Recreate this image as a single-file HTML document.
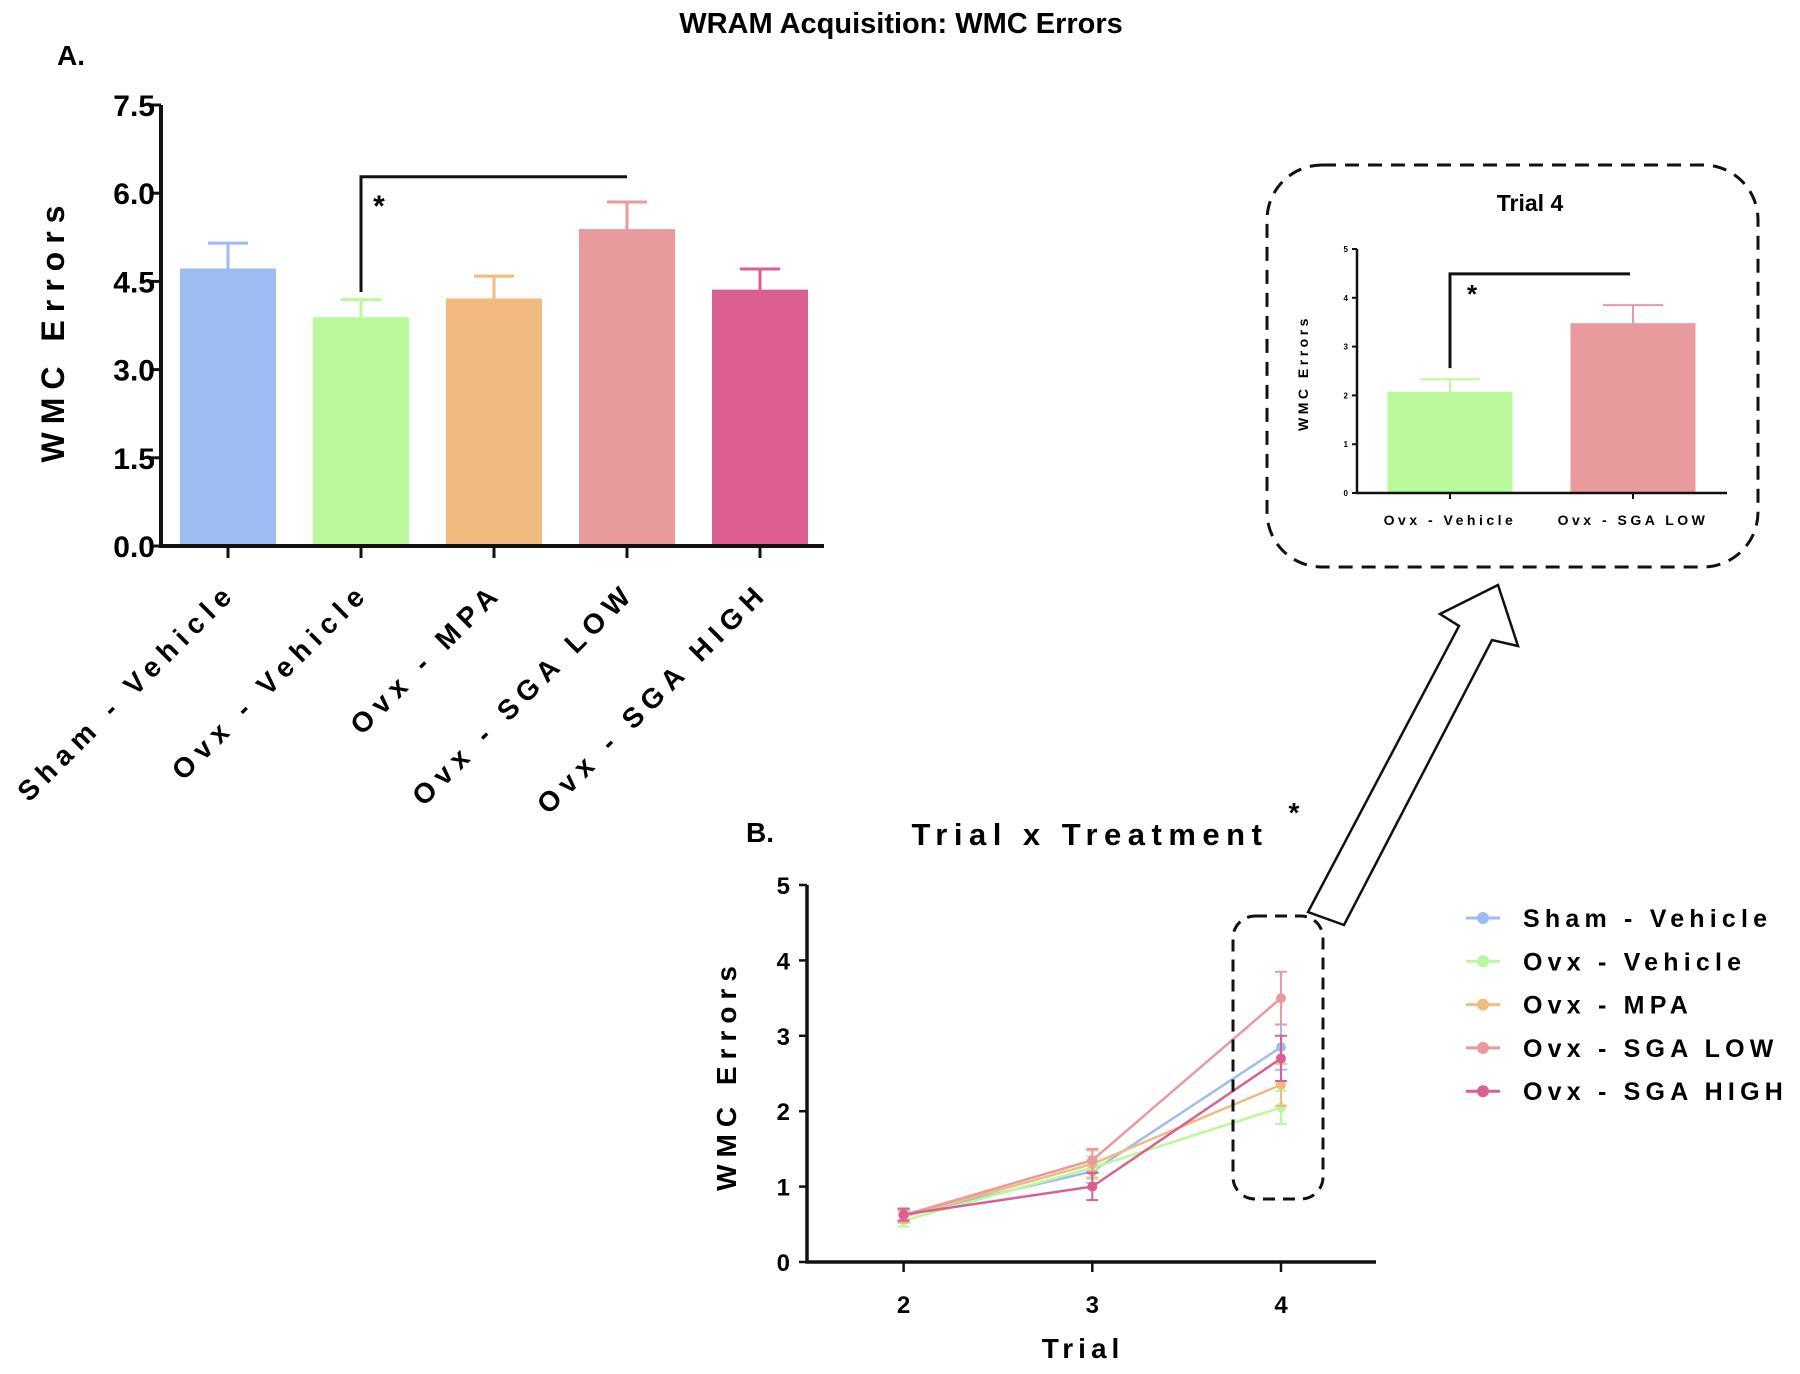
<!DOCTYPE html>
<html><head><meta charset="utf-8"><style>
html,body{margin:0;padding:0;background:#fff;}
svg{display:block;font-family:"Liberation Sans",Arial,sans-serif;font-weight:bold;}
</style></head><body>
<svg id="fig" width="1800" height="1374" viewBox="0 0 1800 1374">
<text x="901" y="33" font-size="29" text-anchor="middle">WRAM Acquisition: WMC Errors</text>
<text x="57" y="65" font-size="28">A.</text>
<g id="pa"></g>
<g id="pi"></g>
<g id="pb"></g>
<path d="M1498,585 L1440,614 L1459,626 L1308,912 L1344,925 L1492,640 L1518,646 Z" fill="#fff" stroke="#111" stroke-width="2.5"/>
</svg>
<script>
const NS="http://www.w3.org/2000/svg";
function mk(p,t,a,txt){const e=document.createElementNS(NS,t);for(const k in a)e.setAttribute(k,a[k]);if(txt!==undefined)e.textContent=txt;p.appendChild(e);return e;}
// ---- Panel A data
const aCategories=["Sham - Vehicle","Ovx - Vehicle","Ovx - MPA","Ovx - SGA LOW","Ovx - SGA HIGH"];
const aMeans=[4.72,3.89,4.21,5.39,4.36];
const aSem=[0.43,0.30,0.38,0.46,0.35];
const aTicks=[0,1.5,3.0,4.5,6.0,7.5];
const colors=["#9dbdf2","#baf99b","#efbb7f","#e89a9d","#db5f92"];
// ---- Inset data
const iCategories=["Ovx - Vehicle","Ovx - SGA LOW"];
const iMeans=[2.07,3.48];
const iSem=[0.26,0.37];
const iTicks=[0,1,2,3,4,5];
// ---- Panel B data
const bTrials=[2,3,4];
const bSeries=["Sham - Vehicle","Ovx - Vehicle","Ovx - MPA","Ovx - SGA LOW","Ovx - SGA HIGH"];
const bSham=[0.62,1.2,2.85];
const bOvxVeh=[0.55,1.25,2.05];
const bMPA=[0.6,1.3,2.35];
const bLow=[0.62,1.35,3.5];
const bHigh=[0.63,1.0,2.7];
const bShamErr=[0.08,0.15,0.3];
const bOvxVehErr=[0.08,0.15,0.22];
const bMPAErr=[0.08,0.18,0.28];
const bLowErr=[0.08,0.15,0.35];
const bHighErr=[0.08,0.18,0.3];
const bTicks=[0,1,2,3,4,5];

// Panel A
(function(){
const g=document.getElementById('pa');
const x0=161,y0=546,yTop=105,max=7.5,xEnd=824,step=133,first=228,bw=96;
const Y=v=>y0-(y0-yTop)*v/max, X=i=>first+i*step;
aCategories.forEach((c,i)=>{
 const b=mk(g,'rect',{x:X(i)-bw/2,y:Y(aMeans[i]),width:bw,height:y0-Y(aMeans[i]),fill:colors[i]});
 
 const e=mk(g,'path',{d:`M${X(i)},${Y(aMeans[i])}V${Y(aMeans[i]+aSem[i])}M${X(i)-20},${Y(aMeans[i]+aSem[i])}H${X(i)+20}`,stroke:colors[i],'stroke-width':3,fill:'none'});
 
 mk(g,'line',{x1:X(i),x2:X(i),y1:y0,y2:y0+12,stroke:'#111','stroke-width':3});
 const t=mk(g,'text',{x:X(i)+10,y:y0+48,'font-size':28,'letter-spacing':7,'text-anchor':'end',transform:`rotate(-45 ${X(i)+10} ${y0+48})`},c);
 
});
mk(g,'path',{d:`M${x0},${yTop}V${y0}H${xEnd}`,stroke:'#111','stroke-width':4,fill:'none'});
aTicks.forEach(v=>{
 mk(g,'line',{x1:x0-10,x2:x0,y1:Y(v),y2:Y(v),stroke:'#111','stroke-width':3});
 const t=mk(g,'text',{x:x0-6,y:Y(v)+11,'font-size':30,'text-anchor':'end'},v.toFixed(1));
 
});
const yt=mk(g,'text',{x:64,y:330,'font-size':32,'letter-spacing':8,'text-anchor':'middle',transform:'rotate(-90 64 330)'},'WMC Errors');

const br=mk(g,'path',{d:`M${X(1)},${Y(4.32)}V${Y(6.28)}H${X(3)}`,stroke:'#111','stroke-width':3,fill:'none'});

mk(g,'text',{x:379,y:216,'font-size':30,'text-anchor':'middle'},'*');
})();

// Inset
(function(){
const g=document.getElementById('pi');
const box=mk(g,'rect',{x:1267,y:165,width:491,height:402,rx:55,fill:'none',stroke:'#111','stroke-width':3,'stroke-dasharray':'14 9'});

mk(g,'text',{x:1530,y:211,'font-size':23,'text-anchor':'middle'},'Trial 4');
const x0=1357,y0=493,yTop=249,max=5,xEnd=1727,cx=[1450,1633],cols=[colors[1],colors[3]],bw=125;
const Y=v=>y0-(y0-yTop)*v/max;
iCategories.forEach((c,i)=>{
 const b=mk(g,'rect',{x:cx[i]-bw/2,y:Y(iMeans[i]),width:bw,height:y0-Y(iMeans[i]),fill:cols[i]});
 
 mk(g,'path',{d:`M${cx[i]},${Y(iMeans[i])}V${Y(iMeans[i]+iSem[i])}M${cx[i]-30},${Y(iMeans[i]+iSem[i])}H${cx[i]+30}`,stroke:cols[i],'stroke-width':2,fill:'none'});
 mk(g,'line',{x1:cx[i],x2:cx[i],y1:y0,y2:y0+6,stroke:'#111','stroke-width':2});
 mk(g,'text',{x:cx[i],y:525,'font-size':14,'letter-spacing':3.5,'text-anchor':'middle'},c);
});
mk(g,'path',{d:`M${x0},${yTop}V${y0}H${xEnd}`,stroke:'#111','stroke-width':2.5,fill:'none'});
iTicks.forEach(v=>{
 mk(g,'line',{x1:x0-5,x2:x0,y1:Y(v),y2:Y(v),stroke:'#111','stroke-width':2});
 mk(g,'text',{x:x0-9,y:Y(v)+3,'font-size':8,'text-anchor':'end'},v);
});
mk(g,'text',{x:1308,y:373,'font-size':14,'letter-spacing':3.5,'text-anchor':'middle',transform:'rotate(-90 1308 373)'},'WMC Errors');
mk(g,'path',{d:`M${cx[0]},${Y(2.56)}V${Y(4.49)}H1630`,stroke:'#111','stroke-width':3,fill:'none'});
mk(g,'text',{x:1472,y:303,'font-size':26,'text-anchor':'middle'},'*');
})();

// Panel B
(function(){
const g=document.getElementById('pb');
mk(g,'text',{x:746,y:842,'font-size':28},'B.');
mk(g,'text',{x:1090,y:845,'font-size':31,'letter-spacing':6.5,'text-anchor':'middle'},'Trial x Treatment');
mk(g,'text',{x:1294,y:822,'font-size':28,'text-anchor':'middle'},'*');
const x0=807,y0=1262,yTop=885,max=5,xEnd=1376;
const Y=v=>y0-(y0-yTop)*v/max, X=t=>903.6+(t-2)*188.7;
const means=[bSham,bOvxVeh,bMPA,bLow,bHigh], errs=[bShamErr,bOvxVehErr,bMPAErr,bLowErr,bHighErr];
means.forEach((m,s)=>{
 const col=colors[s];
 const pl=mk(g,'polyline',{points:m.map((v,i)=>X(bTrials[i])+','+Y(v)).join(' '),fill:'none',stroke:col,'stroke-width':2.5});
 
 m.forEach((v,i)=>{
  const x=X(bTrials[i]);
  mk(g,'path',{d:`M${x},${Y(v-errs[s][i])}V${Y(v+errs[s][i])}M${x-6},${Y(v-errs[s][i])}H${x+6}M${x-6},${Y(v+errs[s][i])}H${x+6}`,stroke:col,'stroke-width':2,fill:'none'});
  const p=mk(g,'circle',{cx:x,cy:Y(v),r:5,fill:col});
  
 });
 const ly=918+s*43.3;
 mk(g,'line',{x1:1466,x2:1500,y1:ly,y2:ly,stroke:col,'stroke-width':3});
 mk(g,'circle',{cx:1483,cy:ly,r:6,fill:col});
 const lt=mk(g,'text',{x:1523,y:ly+9,'font-size':25,'letter-spacing':5.2},bSeries[s]);
 
});
mk(g,'path',{d:`M${x0},${yTop}V${y0}H${xEnd}`,stroke:'#111','stroke-width':3.5,fill:'none'});
bTicks.forEach(v=>{
 mk(g,'line',{x1:x0-8,x2:x0,y1:Y(v),y2:Y(v),stroke:'#111','stroke-width':2.5});
 mk(g,'text',{x:790,y:Y(v)+9,'font-size':24,'text-anchor':'end'},v);
});
bTrials.forEach(t=>{
 mk(g,'line',{x1:X(t),x2:X(t),y1:y0,y2:y0+10,stroke:'#111','stroke-width':2.5});
 mk(g,'text',{x:X(t),y:1313,'font-size':24,'text-anchor':'middle'},t);
});
mk(g,'text',{x:1083,y:1358,'font-size':28,'letter-spacing':5,'text-anchor':'middle'},'Trial');
mk(g,'text',{x:736,y:1075,'font-size':28,'letter-spacing':7,'text-anchor':'middle',transform:'rotate(-90 736 1075)'},'WMC Errors');
const db=mk(g,'rect',{x:1233,y:916,width:90,height:283,rx:22,fill:'none',stroke:'#111','stroke-width':3,'stroke-dasharray':'12 8'});

})();
</script>
</body></html>
